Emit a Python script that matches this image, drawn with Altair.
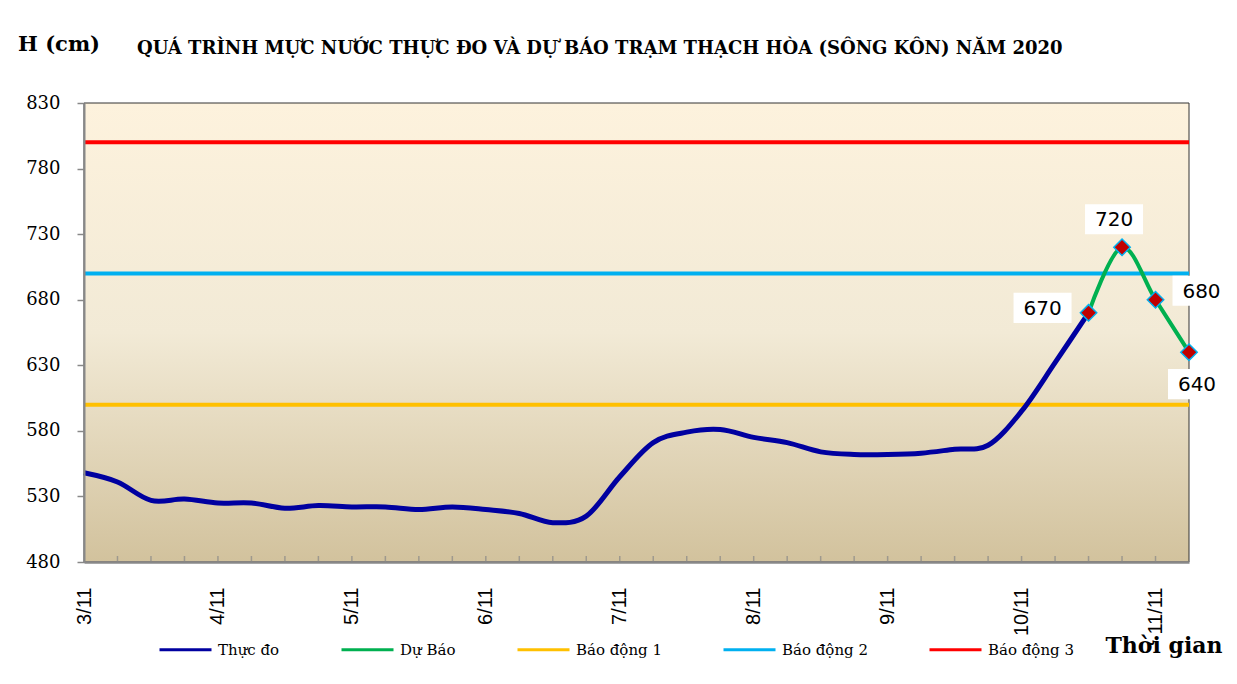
import altair as alt
import pandas as pd

# ---------------- data ----------------
DATE_LABELS = ["3/11", "4/11", "5/11", "6/11", "7/11", "8/11", "9/11", "10/11", "11/11"]
STEPS_PER_DAY = 4

# observed water level (cm), every 6 hours starting 3/11
MEASURED = [548, 541, 527, 528, 525, 525, 521, 523, 522, 522, 520, 522, 520, 517, 510,
            515, 545, 571, 579, 581, 575, 571, 564, 562, 562, 563, 566, 569, 595, 632, 670]
# forecast (cm)
FORECAST = [670, 720, 680, 640]
FORECAST_START = len(MEASURED) - 1

ALARM_NAMES = ["Báo động 1", "Báo động 2", "Báo động 3"]
ALARM_LEVELS = [600, 700, 800]

SERIES = ["Thực đo", "Dự Báo"] + ALARM_NAMES
COLORS = ["#0000A0", "#00B050", "#FFC000", "#00B0F0", "#FF0000"]

TITLE = "QUÁ TRÌNH MỰC NƯỚC THỰC ĐO VÀ DỰ BÁO TRẠM THẠCH HÒA (SÔNG KÔN) NĂM 2020"
Y_TITLE = "H (cm)"
X_TITLE = "Thời gian"

Y_MIN, Y_MAX, Y_STEP = 480, 830, 50

# ---------------- tables ----------------
last_idx = FORECAST_START + len(FORECAST) - 1
meas_df = pd.DataFrame({"i": list(range(len(MEASURED))), "h": MEASURED, "series": "Thực đo"})
fc_df = pd.DataFrame({"i": list(range(FORECAST_START, FORECAST_START + len(FORECAST))),
                      "h": FORECAST, "series": "Dự Báo"})
alarm_rows = []
for name, lvl in zip(ALARM_NAMES, ALARM_LEVELS):
    alarm_rows.append({"i": 0, "h": lvl, "series": name})
    alarm_rows.append({"i": last_idx, "h": lvl, "series": name})
alarm_df = pd.DataFrame(alarm_rows)
bg_df = pd.DataFrame({"x0": [0], "x1": [last_idx], "y0": [Y_MIN], "y1": [Y_MAX]})
tick_df = pd.DataFrame({"i": list(range(1, last_idx))})

W, H = 1105, 459

xscale = alt.Scale(domain=[0, last_idx], nice=False, zero=False)
yscale = alt.Scale(domain=[Y_MIN, Y_MAX], nice=False, zero=False)

label_arr = "[" + ",".join("'%s'" % d for d in DATE_LABELS) + "]"
x_axis = alt.Axis(
    values=[k * STEPS_PER_DAY for k in range(len(DATE_LABELS))],
    labelExpr=label_arr + "[round(datum.value / %d)]" % STEPS_PER_DAY,
    labelAngle=-90, labelFont="Liberation Sans", labelFontSize=20, labelColor="black",
    labelPadding=25, ticks=False, grid=False, domainColor="#888888", domainWidth=2.5,
    title=X_TITLE, titleFont="DejaVu Serif", titleFontWeight="bold", titleFontSize=22,
    titleColor="black", titleAlign="left", titleBaseline="middle", titleX=1021, titleY=83,
    zindex=1,
)
y_axis = alt.Axis(
    values=list(range(Y_MIN, Y_MAX + 1, Y_STEP)), labelFont="DejaVu Serif", labelFontSize=18,
    labelColor="black", tickColor="#888888", tickSize=7, tickWidth=1.5, labelPadding=17,
    domainColor="#888888", domainWidth=2, grid=False, title=None, zindex=1,
)

color_scale = alt.Scale(domain=SERIES, range=COLORS)
legend = alt.Legend(
    orient="none", legendX=74, legendY=519, direction="horizontal", columns=5,
    columnPadding=55, symbolType="stroke", symbolSize=2704, symbolStrokeWidth=3,
    labelFont="DejaVu Serif", labelFontSize=15, labelColor="black", labelOffset=5,
    title=None, padding=0,
)

gradient = alt.Gradient(
    gradient="linear", x1=0, x2=0, y1=0, y2=1,
    stops=[alt.GradientStop(color="#FDF2DD", offset=0),
           alt.GradientStop(color="#F2EAD6", offset=0.5),
           alt.GradientStop(color="#D2C29D", offset=1)],
)

background = alt.Chart(bg_df).mark_rect(color=gradient, stroke="#333333", strokeWidth=1).encode(
    x=alt.X("x0:Q", scale=xscale, axis=x_axis), x2="x1:Q",
    y=alt.Y("y0:Q", scale=yscale, axis=y_axis), y2="y1:Q",
)

inner_ticks = alt.Chart(tick_df).mark_tick(
    orient="vertical", size=6, thickness=1.5, color="#888888", yOffset=-3
).encode(x=alt.X("i:Q", scale=xscale), y=alt.datum(Y_MIN))

alarms = alt.Chart(alarm_df).mark_line(strokeWidth=4).encode(
    x=alt.X("i:Q", scale=xscale), y=alt.Y("h:Q", scale=yscale),
    color=alt.Color("series:N", scale=color_scale, legend=legend),
    detail="series:N",
)

measured = alt.Chart(meas_df).mark_line(strokeWidth=5, interpolate="cardinal").encode(
    x=alt.X("i:Q", scale=xscale), y=alt.Y("h:Q", scale=yscale),
    color=alt.Color("series:N", scale=color_scale, legend=legend),
)

forecast = alt.Chart(fc_df).mark_line(strokeWidth=4, interpolate="cardinal").encode(
    x=alt.X("i:Q", scale=xscale), y=alt.Y("h:Q", scale=yscale),
    color=alt.Color("series:N", scale=color_scale, legend=legend),
)

markers = alt.Chart(fc_df).mark_point(
    shape="diamond", filled=True, color="#C00000", stroke="#00B0F0", strokeWidth=1.5,
    size=270, opacity=1,
).encode(x=alt.X("i:Q", scale=xscale), y=alt.Y("h:Q", scale=yscale))

BOX = "M-1,-0.52L1,-0.52L1,0.52L-1,0.52Z"
# label placement (pixel offsets from each forecast point), in forecast order
LABEL_OFFSETS = [(-46, -5), (-8, -28), (46, -9), (8, 32)]

label_layers = []
for k, (dx, dy) in enumerate(LABEL_OFFSETS):
    row = fc_df.iloc[[k]]
    box = alt.Chart(row).mark_point(
        shape=BOX, filled=True, color="white", opacity=1, size=58 * 58,
        xOffset=dx, yOffset=dy,
    ).encode(x=alt.X("i:Q", scale=xscale), y=alt.Y("h:Q", scale=yscale))
    txt = alt.Chart(row).mark_text(
        font="DejaVu Sans", fontSize=20, color="black", xOffset=dx, yOffset=dy + 1,
        align="center", baseline="middle",
    ).encode(x=alt.X("i:Q", scale=xscale), y=alt.Y("h:Q", scale=yscale), text="h:Q")
    label_layers += [box, txt]

title_df = pd.DataFrame({"t": [TITLE]})
ytitle_df = pd.DataFrame({"t": [Y_TITLE]})
title_mark = alt.Chart(title_df).mark_text(
    font="DejaVu Serif", fontWeight="bold", fontSize=18, color="black",
    align="left", baseline="alphabetic",
).encode(x=alt.value(53), y=alt.value(-49), text="t:N")
ytitle_mark = alt.Chart(ytitle_df).mark_text(
    font="DejaVu Serif", fontWeight="bold", fontSize=21, color="black",
    align="left", baseline="alphabetic",
).encode(x=alt.value(-66), y=alt.value(-52), text="t:N")

chart = alt.layer(
    background, inner_ticks, alarms, measured, forecast, markers, *label_layers,
    title_mark, ytitle_mark,
).properties(
    width=W, height=H,
    autosize=alt.AutoSizeParams(type="none"),
    padding={"left": 76, "top": 95, "right": 40, "bottom": 114},
    background="white",
).configure_view(stroke=None)

chart.save("out.html", embed_options={"renderer": "svg", "actions": False})
